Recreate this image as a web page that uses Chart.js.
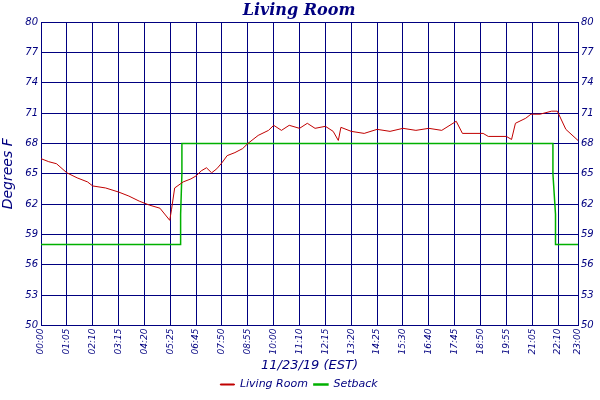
<!DOCTYPE html>
<html lang="en">
<head>
<meta charset="UTF-8">
<title>Living Room</title>
<script src="https://cdn.jsdelivr.net/npm/chart.js"></script>
<style>
  body { margin: 0; background: #fff; }
  .wrap { width: 600px; height: 400px; }
</style>
</head>
<body>
<div class="wrap"><canvas id="chart"></canvas></div>
<script>
// x values are grid positions: 0 = 00:00, each grid step one tick label
const tickLabels = ['00:00','01:05','02:10','03:15','04:20','05:25','06:45','07:50','08:55','10:00','11:10',
  '12:15','13:20','14:25','15:30','16:40','17:45','18:50','19:55','21:05','22:10','23:00'];
const tickPos = [0,1,2,3,4,5,6,7,8,9,10,11,12,13,14,15,16,17,18,19,20,20.77];
const yTicks = [50,53,56,59,62,65,68,71,74,77,80];

const roomX = [0,0.3,0.6,1,1.4,1.8,2.0,2.5,3,3.4,3.8,4.2,4.6,4.98,5.05,5.17,5.5,5.8,6.0,6.2,6.4,6.6,6.8,7.0,7.2,7.5,7.8,8.0,8.4,8.8,
  9.0,9.3,9.6,10,10.3,10.6,11,11.3,11.5,11.6,12,12.5,13,13.5,14,14.5,15,15.5,16.06,16.3,17.1,17.3,18.0,18.2,18.35,18.75,18.95,19.3,19.75,19.97,20.3,20.77];
const roomY = [66.5,66.2,66.0,65.1,64.6,64.2,63.8,63.6,63.2,62.8,62.3,61.9,61.6,60.4,61.5,63.6,64.2,64.5,64.8,65.3,65.6,65.1,65.5,66.1,66.8,67.1,67.5,68.0,68.8,69.3,
  69.8,69.3,69.8,69.5,70.0,69.5,69.7,69.2,68.3,69.6,69.2,69.0,69.4,69.2,69.5,69.3,69.5,69.3,70.2,69.0,69.0,68.7,68.7,68.4,70.0,70.5,70.9,70.9,71.2,71.2,69.4,68.3];
const setX = [0,5.4,5.4,5.45,5.45,19.8,19.8,19.9,19.9,20.77];
const setY = [58,58,61,65,68,68,65,61,58,58];

const navy = '#000080';
const pts = (xs, ys) => xs.map((x, i) => ({ x: x, y: ys[i] }));

const yScale = (pos) => ({
  type: 'linear', position: pos, min: 50, max: 80,
  afterBuildTicks: s => { s.ticks = yTicks.map(v => ({ value: v })); },
  afterFit: s => { s.width = pos === 'left' ? 41 : 20; },
  grid: { display: pos === 'left', color: navy, lineWidth: 1, drawTicks: false },
  border: { color: navy },
  ticks: { color: navy, font: { family: 'DejaVu Sans', style: 'italic', size: 10 }, padding: 3 },
  title: { display: pos === 'left', text: 'Degrees F', color: navy, padding: 0,
    font: { family: 'DejaVu Sans', style: 'italic', size: 14 } }
});

new Chart(document.getElementById('chart'), {
  type: 'line',
  data: {
    datasets: [
      { label: 'Living Room', data: pts(roomX, roomY), borderColor: '#c00000', backgroundColor: '#c00000',
        borderWidth: 1, pointRadius: 0, tension: 0 },
      { label: 'Setback', data: pts(setX, setY), borderColor: '#00b000', backgroundColor: '#00b000',
        borderWidth: 1.5, pointRadius: 0, tension: 0 }
    ]
  },
  options: {
    responsive: true,
    maintainAspectRatio: false,
    animation: false,
    layout: { padding: { left: 0, right: 2, top: 0, bottom: 0 } },
    plugins: {
      title: { display: true, text: 'Living Room', color: navy, padding: { top: 1, bottom: 2 },
        font: { family: 'DejaVu Serif', style: 'italic', size: 16 } },
      legend: { position: 'bottom', labels: { color: navy, boxWidth: 14, boxHeight: 1, padding: 6,
        font: { family: 'DejaVu Sans', style: 'italic', size: 11 } } },
      tooltip: { enabled: false }
    },
    scales: {
      x: {
        type: 'linear', min: 0, max: 20.77,
        afterBuildTicks: s => { s.ticks = tickPos.map(v => ({ value: v })); },
        grid: { color: navy, lineWidth: 1, drawTicks: false },
        border: { color: navy },
        ticks: { color: navy, maxRotation: 90, minRotation: 90, autoSkip: false, padding: 3,
          font: { family: 'DejaVu Sans', style: 'italic', size: 9 },
          callback: (v, i) => tickLabels[i] },
        title: { display: true, text: '11/23/19 (EST)', color: navy, padding: 0,
          font: { family: 'DejaVu Sans', style: 'italic', size: 13 } }
      },
      y: yScale('left'),
      y2: yScale('right')
    }
  }
});
</script>
</body>
</html>
